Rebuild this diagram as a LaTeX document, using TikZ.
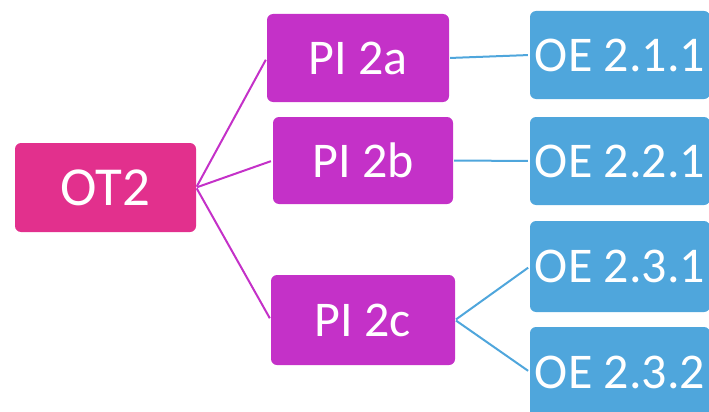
\documentclass[tikz,border=0pt]{standalone}
\usepackage{fontspec}
\setmainfont{Carlito}
\definecolor{otc}{HTML}{E2308D}
\definecolor{pic}{HTML}{C431C8}
\definecolor{oec}{HTML}{4FA6DC}
\begin{document}
\begin{tikzpicture}[x=1pt,y=-1pt,
  box/.style={rounded corners=6pt,text=white,inner sep=0pt,font=\fontsize{50}{50}\selectfont},
  otbox/.style={box,fill=otc,font=\fontsize{55}{55}\selectfont},
  pibox/.style={box,fill=pic},
  oebox/.style={box,fill=oec},
  pline/.style={draw=pic,line width=2pt,shorten <=1pt,shorten >=2pt},
  bline/.style={draw=oec,line width=2pt,shorten <=1pt,shorten >=2pt}]
\useasboundingbox (0,0) rectangle (709,412);
\begin{scope}
\clip (0,0) rectangle (709,412);
\node[otbox,minimum width=181pt,minimum height=89pt] (ot) at (105.5,187.5) {OT2};
\node[pibox,minimum width=182pt,minimum height=88pt] (pa) at (358,58) {PI 2a};
\node[pibox,minimum width=180pt,minimum height=87pt] (pb) at (363,160.5) {PI 2b};
\node[pibox,minimum width=184pt,minimum height=90pt] (pc) at (363,320) {PI 2c};
\node[oebox,minimum width=180pt,minimum height=88pt] (e1) at (620,55) {OE 2.1.1};
\node[oebox,minimum width=180pt,minimum height=88pt] (e2) at (620,161) {OE 2.2.1};
\node[oebox,minimum width=180pt,minimum height=91pt] (e3) at (620,266.5) {OE 2.3.1};
\node[oebox,minimum width=180pt,minimum height=90pt] (e4) at (620,372) {OE 2.3.2};
\end{scope}
\draw[pline] (ot.east) -- (pa.west);
\draw[pline] (ot.east) -- (pb.west);
\draw[pline] (ot.east) -- (pc.west);
\draw[bline] (pa.east) -- (e1.west);
\draw[bline] (pb.east) -- (e2.west);
\draw[bline] (pc.east) -- (e3.west);
\draw[bline] (pc.east) -- (e4.west);
\end{tikzpicture}
\end{document}
